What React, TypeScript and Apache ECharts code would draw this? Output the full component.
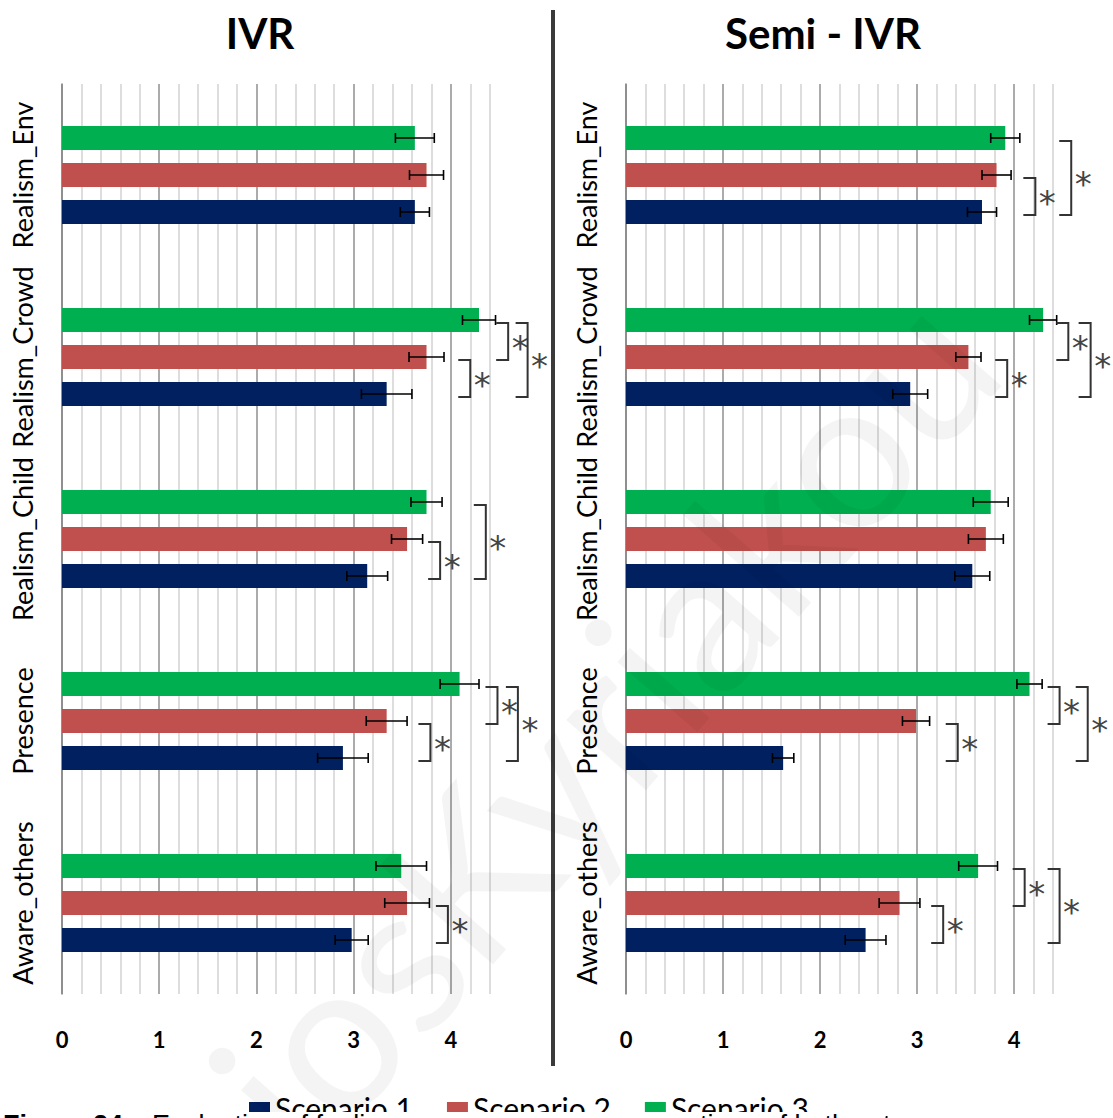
import React, { useEffect, useRef } from 'react';
import * as echarts from 'echarts';

// ---- data ----
const categories = ['Aware_others', 'Presence', 'Realism_Child', 'Realism_Crowd', 'Realism_Env'];
const seriesNames = ['Scenario 1', 'Scenario 2', 'Scenario 3'];
const seriesColors = ['#002060', '#C0504D', '#00B050'];
const panelTitles = ['IVR', 'Semi - IVR'];

const ivrScenario1 = [2.98, 2.89, 3.14, 3.34, 3.63];
const ivrScenario2 = [3.55, 3.34, 3.55, 3.75, 3.75];
const ivrScenario3 = [3.49, 4.09, 3.75, 4.29, 3.63];
const ivrErr1 = [0.17, 0.26, 0.21, 0.26, 0.15];
const ivrErr2 = [0.23, 0.21, 0.16, 0.18, 0.175];
const ivrErr3 = [0.26, 0.2, 0.16, 0.17, 0.2];

const semiScenario1 = [2.47, 1.62, 3.57, 2.93, 3.67];
const semiScenario2 = [2.82, 2.99, 3.71, 3.53, 3.82];
const semiScenario3 = [3.63, 4.16, 3.76, 4.3, 3.91];
const semiErr1 = [0.21, 0.11, 0.18, 0.18, 0.15];
const semiErr2 = [0.21, 0.14, 0.18, 0.13, 0.15];
const semiErr3 = [0.2, 0.13, 0.18, 0.14, 0.15];

// significance brackets: [categoryIndex, x position (axis units), upper scenario idx, lower scenario idx]
const ivrBrackets = [
  [3, 4.59, 2, 1], [3, 4.79, 2, 0], [3, 4.2, 1, 0],
  [2, 3.89, 1, 0], [2, 4.36, 2, 0],
  [1, 4.48, 2, 1], [1, 4.69, 2, 0], [1, 3.79, 1, 0],
  [0, 3.97, 1, 0],
];
const semiBrackets = [
  [4, 4.22, 1, 0], [4, 4.59, 2, 0],
  [3, 4.56, 2, 1], [3, 4.79, 2, 0], [3, 3.93, 1, 0],
  [1, 4.47, 2, 1], [1, 4.76, 2, 0], [1, 3.42, 1, 0],
  [0, 4.11, 2, 1], [0, 4.47, 2, 0], [0, 3.27, 1, 0],
];

const xTicks = [0, 1, 2, 3, 4];
const captionParts = ['Figure 24.', 'Evaluation of feelin', 'tions of both set'];

const BAR_W = 24;
const BAR_STEP = 37;
const FONT = 'Lato, "Open Sans", sans-serif';
const CAP_FONT = '"Liberation Sans", Arial, sans-serif';

function barOffset(s: number) {
  // scenario 3 on top, scenario 1 at bottom
  const p = 2 - s;
  return (p - 1) * BAR_STEP;
}

function buildPanel(k: number, vals: number[][], errs: number[][], brackets: number[][]) {
  const series: any[] = [];
  [2, 1, 0].forEach((s) => {
    series.push({
      type: 'bar',
      name: seriesNames[s],
      xAxisIndex: k,
      yAxisIndex: k,
      data: vals[s],
      barWidth: BAR_W,
      barGap: '54%',
      itemStyle: { color: seriesColors[s] },
      z: 2,
    });
  });
  const errData: number[][] = [];
  [0, 1, 2].forEach((s) => {
    vals[s].forEach((v, c) => {
      errData.push([c, v - errs[s][c], v + errs[s][c], s]);
    });
  });
  series.push({
    type: 'custom',
    name: 'err' + k,
    xAxisIndex: k,
    yAxisIndex: k,
    encode: { x: [1, 2], y: 0 },
    data: errData,
    z: 5,
    clip: false,
    silent: true,
    renderItem: (params: any, api: any) => {
      const c = api.value(0);
      const lo = api.coord([api.value(1), c]);
      const hi = api.coord([api.value(2), c]);
      const y = lo[1] + barOffset(api.value(3));
      const st = { stroke: '#000', lineWidth: 1.6 };
      return {
        type: 'group',
        children: [
          { type: 'line', shape: { x1: lo[0], y1: y, x2: hi[0], y2: y }, style: st },
          { type: 'line', shape: { x1: lo[0], y1: y - 5, x2: lo[0], y2: y + 5 }, style: st },
          { type: 'line', shape: { x1: hi[0], y1: y - 5, x2: hi[0], y2: y + 5 }, style: st },
        ],
      };
    },
  });
  series.push({
    type: 'custom',
    name: 'sig' + k,
    xAxisIndex: k,
    yAxisIndex: k,
    encode: { x: 1, y: 0 },
    data: brackets,
    z: 5,
    clip: false,
    silent: true,
    renderItem: (params: any, api: any) => {
      const c = api.value(0);
      const p = api.coord([api.value(1), c]);
      const yT = p[1] + barOffset(api.value(2)) + 3;
      const yB = p[1] + barOffset(api.value(3)) + 3;
      const x = p[0];
      return {
        type: 'group',
        children: [
          {
            type: 'polyline',
            shape: { points: [[x - 12, yT], [x, yT], [x, yB], [x - 12, yB]] },
            style: { stroke: '#333', lineWidth: 2, fill: null },
          },
          {
            type: 'text',
            x: x + 12,
            y: (yT + yB) / 2 + 6,
            style: {
              text: '*',
              fontSize: 34,
              fontFamily: '"DejaVu Sans", sans-serif',
              fill: '#444',
              align: 'center',
              verticalAlign: 'middle',
            },
          },
        ],
      };
    },
  });
  return series;
}

export default function App() {
  const ref = useRef<HTMLDivElement>(null);
  useEffect(() => {
    if (!ref.current) return;
    const chart = echarts.init(ref.current, undefined, { renderer: 'svg' });
    const grids = [
      { left: 62, top: 84, width: 427.7, height: 910 },
      { left: 626, top: 84, width: 426.8, height: 910 },
    ];
    const xAxes = [0, 1].map((k) => ({
      type: 'value',
      gridIndex: k,
      min: 0,
      max: 4.4,
      interval: 0.2,
      axisLine: { show: false },
      axisTick: { show: false },
      axisLabel: {
        margin: 34,
        fontSize: 22,
        fontWeight: 'bold',
        fontFamily: FONT,
        color: '#000',
        formatter: (v: number) => {
          const r = Math.round(v);
          return Math.abs(v - r) < 1e-6 && xTicks.indexOf(r) >= 0 ? String(r) : '';
        },
      },
      splitLine: {
        show: true,
        lineStyle: { color: ['#8f8f8f', '#d2d2d2', '#d2d2d2', '#d2d2d2', '#d2d2d2'], width: 1.5 },
      },
    }));
    const yAxes = [0, 1].map((k) => ({
      type: 'category',
      gridIndex: k,
      data: categories,
      axisLine: { show: true, lineStyle: { color: '#868686', width: 1.5 } },
      axisTick: { show: false },
      axisLabel: {
        rotate: 90,
        interval: 0,
        margin: 26,
        fontSize: 27,
        fontFamily: FONT,
        color: '#000',
      },
    }));
    const series = [
      ...buildPanel(0, [ivrScenario1, ivrScenario2, ivrScenario3], [ivrErr1, ivrErr2, ivrErr3], ivrBrackets),
      ...buildPanel(1, [semiScenario1, semiScenario2, semiScenario3], [semiErr1, semiErr2, semiErr3], semiBrackets),
    ];
    chart.setOption({
      animation: false,
      backgroundColor: '#fff',
      grid: grids,
      xAxis: xAxes,
      yAxis: yAxes,
      legend: {
        data: seriesNames,
        left: 244,
        top: 1088,
        icon: 'rect',
        itemWidth: 21,
        itemHeight: 12,
        itemGap: 34,
        textStyle: { fontSize: 30, fontFamily: FONT, color: '#000' },
        selectedMode: false,
      },
      graphic: [
        {
          type: 'text',
          x: 260,
          y: 33,
          style: { text: panelTitles[0], fontSize: 42, fontWeight: 'bold', fontFamily: FONT, fill: '#000', align: 'center', verticalAlign: 'middle' },
        },
        {
          type: 'text',
          x: 823,
          y: 33,
          style: { text: panelTitles[1], fontSize: 42, fontWeight: 'bold', fontFamily: FONT, fill: '#000', align: 'center', verticalAlign: 'middle' },
        },
        {
          type: 'line',
          shape: { x1: 553, y1: 10, x2: 553, y2: 1066 },
          style: { stroke: '#3a3a3a', lineWidth: 4 },
        },
        {
          type: 'text',
          x: 600,
          y: 720,
          rotation: 0.85,
          z: 50,
          silent: true,
          style: { text: 'iosKyriakou', fontSize: 210, fontFamily: FONT, fill: 'rgba(0,0,0,0.045)', align: 'center', verticalAlign: 'middle' },
        },
        {
          type: 'rect',
          z: 100,
          shape: { x: 0, y: 1112, width: 1113, height: 10 },
          style: { fill: '#fff' },
        },
        {
          type: 'text',
          x: 3,
          y: 1111,
          z: 101,
          style: { text: captionParts[0], fontSize: 27, fontWeight: 'bold', fontFamily: CAP_FONT, fill: '#000', verticalAlign: 'top' },
        },
        {
          type: 'text',
          x: 152,
          y: 1111,
          z: 101,
          style: { text: captionParts[1], fontSize: 27, fontFamily: CAP_FONT, fill: '#000', verticalAlign: 'top' },
        },
        {
          type: 'text',
          x: 700,
          y: 1111,
          z: 101,
          style: { text: captionParts[2], fontSize: 27, fontFamily: CAP_FONT, fill: '#000', verticalAlign: 'top' },
        },
      ],
      series,
    });
    return () => chart.dispose();
  }, []);
  return (
    <div style={{ position: 'absolute', left: 0, top: 0, width: 1113, height: 1118, background: '#fff', overflow: 'hidden' }}>
      <div ref={ref} style={{ width: 1113, height: 1118 }} />
    </div>
  );
}
